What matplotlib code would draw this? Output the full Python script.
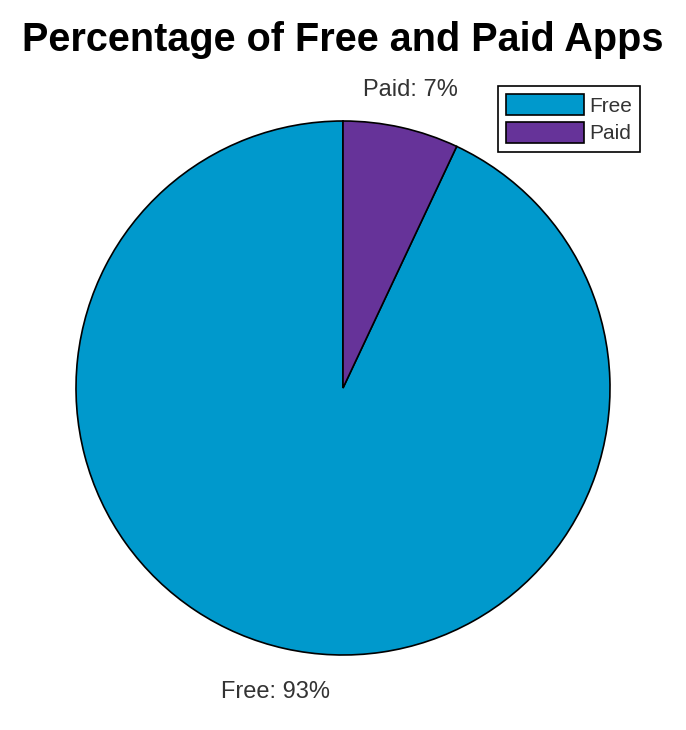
import matplotlib
matplotlib.use("Agg")
import matplotlib.pyplot as plt
from matplotlib.transforms import offset_copy

labels = ["Free", "Paid"]
shares = [93, 7]
colors = ["#0099CC", "#663399"]

plt.rcParams['font.family'] = ['Liberation Sans', 'DejaVu Sans']

fig = plt.figure(figsize=(6.86, 7.3), dpi=100)
# pie centre at (343, 388) px, radius 267 px
ax = fig.add_axes([(343 - 267) / 686, (730 - 388 - 267) / 730, 534 / 686, 534 / 730])

wedges, texts = ax.pie(
    shares,
    labels=[f"{l}: {s}%" for l, s in zip(labels, shares)],
    colors=colors,
    startangle=90,
    counterclock=True,
    labeldistance=1.155,
    wedgeprops=dict(edgecolor="black", linewidth=1.2),
    textprops=dict(fontsize=17, color="#333333"),
)
for t in texts:
    t.set_horizontalalignment("center")
    t.set_verticalalignment("center")
    t.set_transform(offset_copy(ax.transData, fig=fig, x=0, y=-3, units="dots"))

ax.set_xlim(-1, 1)
ax.set_ylim(-1, 1)
ax.set_aspect("equal")
ax.axis("off")

fig.text(343 / 686, 1 - 40 / 730, "Percentage of Free and Paid Apps",
         ha="center", va="center", fontsize=28.5, fontweight="bold")

leg = fig.legend(wedges, labels, loc="upper right",
                 bbox_to_anchor=(640 / 686, 1 - 86 / 730),
                 fontsize=15, fancybox=False, edgecolor="black",
                 framealpha=1, handlelength=3.7, handleheight=1.15,
                 handletextpad=0.25, borderpad=0.4, labelspacing=0.3,
                 borderaxespad=0)
for t in leg.get_texts():
    t.set_color("#333333")
leg.get_frame().set_linewidth(1.2)

fig.savefig("out.png", dpi=100, facecolor="white")
